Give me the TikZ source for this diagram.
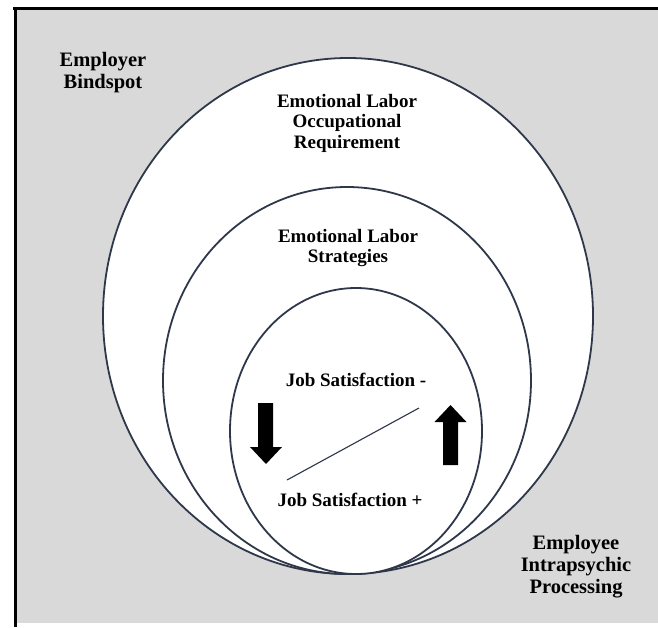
\documentclass[tikz,border=0pt]{standalone}
\usepackage{fontspec}
\setmainfont{Liberation Serif}
\begin{document}
\definecolor{panel}{HTML}{D9D9D9}
\definecolor{ring}{HTML}{2E384A}
\begin{tikzpicture}[x=1pt,y=-1pt,
  ringline/.style={draw=ring,line width=1.8pt,fill=white},
  biglabel/.style={font=\bfseries\fontsize{20.5}{22}\selectfont,align=center,inner sep=0pt},
  label/.style={font=\bfseries\fontsize{19}{20.5}\selectfont,align=center,inner sep=0pt},
  blockarrow/.style={fill=black,draw=none}]
\useasboundingbox (0,0) rectangle (658,627);
% grey panel and its frame
\fill[panel] (15,8) rectangle (658,623);
\draw[black,line width=3pt] (13,8) -- (658,8);
\draw[black,line width=3pt] (15,8) -- (15,627);
% nested ellipses, all touching at the bottom
\path[ringline] (348,316) ellipse [x radius=245,y radius=258];
\path[ringline] (347,380.5) ellipse [x radius=184,y radius=193.5];
\path[ringline] (356,431) ellipse [x radius=126,y radius=143];
% labels
\node[biglabel] (employer) at (103,73) {Employer\\Bindspot};
\node[biglabel] (employee) at (576,567) {Employee\\Intrapsychic\\Processing};
\node[label] (occupational) at (347,123) {Emotional Labor\\Occupational\\Requirement};
\node[label] (strategies) at (348,248) {Emotional Labor\\Strategies};
\node[label] (satminus) at (356,380) {Job Satisfaction -};
\node[label] (satplus) at (350,500) {Job Satisfaction +};
% diagonal line between the two states
\coordinate (lineA) at (287,480);
\coordinate (lineB) at (419,408);
\draw[ring,line width=1.1pt] (lineA) -- (lineB);
% down arrow
\path[blockarrow] (258,403) -- (273,403) -- (273,447) -- (282,447) -- (266,464)
  -- (250,447) -- (258,447) -- cycle;
% up arrow
\path[blockarrow] (443,465) -- (458,465) -- (458,422) -- (466.5,422) -- (450.5,405)
  -- (434.5,422) -- (443,422) -- cycle;
\end{tikzpicture}
\end{document}
